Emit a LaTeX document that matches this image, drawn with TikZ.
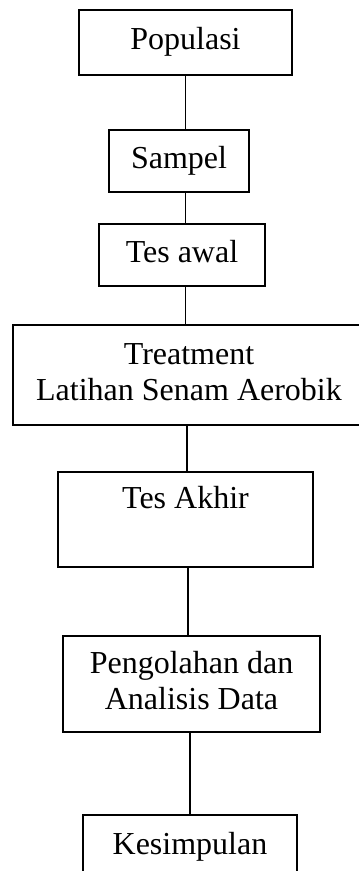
\documentclass[tikz,border=0pt]{standalone}
\usepackage{fontspec}
\setmainfont{Liberation Serif}
\begin{document}
\begin{tikzpicture}[x=1pt,y=-1pt,
  box/.style={draw,line width=1.5pt,rectangle,inner sep=0pt,align=center,
    font=\fontsize{32}{36}\selectfont},
  conn/.style={line width=1.5pt}]
\clip (0,0) rectangle (359,871);
\node[box,minimum width=213pt,minimum height=65pt] (pop) at (185.5,42.5) {\strut Populasi};
\node[box,minimum width=140pt,minimum height=62pt] (sam) at (179,161) {\strut Sampel};
\node[box,minimum width=166pt,minimum height=62pt] (tes) at (182,255) {\strut Tes awal};
\node[box,minimum width=352pt,minimum height=100pt] (treat) at (189,375) {\strut Treatment\\\strut Latihan Senam Aerobik};
\node[box,minimum width=255pt,minimum height=95pt] (akhir) at (185.5,519.5) {\strut Tes Akhir\\\strut};
\node[box,minimum width=257pt,minimum height=96pt] (peng) at (191.5,684) {\strut Pengolahan dan\\\strut Analisis Data};
\node[box,minimum width=214pt,minimum height=65pt] (kes) at (190,847.5) {\strut Kesimpulan};
\draw[conn] (pop.south) -- (pop.south |- sam.north);
\draw[conn] (sam.south -| pop.south) -- (tes.north -| pop.south);
\draw[conn] (tes.south -| pop.south) -- (treat.north -| pop.south);
\draw[conn] ([xshift=1.5pt]akhir.north) -- ([xshift=1.5pt]akhir.north |- treat.south);
\draw[conn] ([xshift=2.5pt]akhir.south) -- ([xshift=2.5pt]akhir.south |- peng.north);
\draw[conn] (kes.north) -- (kes.north |- peng.south);
\end{tikzpicture}
\end{document}
